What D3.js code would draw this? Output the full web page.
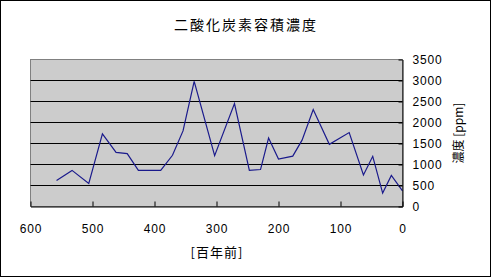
<!DOCTYPE html>
<html>
<head>
<meta charset="utf-8">
<script src="https://cdn.jsdelivr.net/npm/d3@7"></script>
<style>
  body { margin: 0; background: #fff; }
  svg text { font-family: "Liberation Sans", "Noto Sans CJK JP", sans-serif; fill: #000; }
</style>
</head>
<body>
<div id="chart"></div>
<script>
// values: hundreds of years ago vs CO2 concentration
const yearsAgo = [558, 533, 506, 484, 462, 444, 426, 390, 371, 354, 336, 303, 271, 247, 229, 216, 200, 177, 162, 144, 118, 86, 63, 48, 32, 18, 0];
const ppm = [620, 860, 550, 1730, 1290, 1260, 860, 860, 1220, 1800, 2980, 1210, 2450, 860, 880, 1630, 1130, 1200, 1580, 2310, 1480, 1760, 750, 1195, 320, 740, 370];
const xTicks = [600, 500, 400, 300, 200, 100, 0];
const yTicks = [0, 500, 1000, 1500, 2000, 2500, 3000, 3500];
const titleText = "二酸化炭素容積濃度";
const xLabel = "[百年前]";
const yLabel = "濃度 [ppm]";

const W = 492, H = 278;
const svg = d3.select("#chart").append("svg")
    .attr("width", W)
    .attr("height", H);

// outer frame
svg.append("rect")
    .attr("x", 0.5).attr("y", 0.5)
    .attr("width", W - 2).attr("height", H - 2)
    .attr("fill", "#fff")
    .attr("stroke", "#000");

const plot = { left: 30.5, right: 402.5, top: 59.5, bottom: 206.5 };

const x = d3.scaleLinear().domain([600, 0]).range([plot.left, plot.right]);
const y = d3.scaleLinear().domain([0, 3500]).range([plot.bottom, plot.top]);

// plot area
svg.append("rect")
    .attr("x", plot.left).attr("y", plot.top)
    .attr("width", plot.right - plot.left)
    .attr("height", plot.bottom - plot.top)
    .attr("fill", "#cccccc")
    .attr("stroke", "#808080");

// gridlines
svg.append("g")
    .selectAll("line")
    .data(yTicks.filter(d => d > 0 && d < 3500))
    .enter()
    .append("line")
    .attr("x1", plot.left).attr("x2", plot.right)
    .attr("y1", d => y(d)).attr("y2", d => y(d))
    .attr("stroke", "#000")
    .attr("stroke-width", 1);

// series
const line = d3.line()
    .x((d, i) => x(yearsAgo[i]))
    .y(d => y(d));

svg.append("path")
    .datum(ppm)
    .attr("d", line)
    .attr("fill", "none")
    .attr("stroke", "#1a1a8c")
    .attr("stroke-width", 1.2);

// axes
const yAxis = svg.append("g")
    .attr("transform", `translate(${plot.right}, 0)`)
    .call(d3.axisRight(y).tickValues(yTicks).tickFormat(d3.format("d"))
        .tickSize(-4).tickSizeOuter(0).tickPadding(10));
yAxis.select(".domain").attr("stroke", "#000");
yAxis.selectAll("text")
    .attr("font-size", "12px")
    .attr("letter-spacing", "0.8px")
    .attr("font-family", "Liberation Sans");

const xAxis = svg.append("g")
    .attr("transform", `translate(0, ${plot.bottom})`)
    .call(d3.axisBottom(x).tickValues(xTicks).tickFormat(d3.format("d"))
        .tickSize(-5).tickSizeOuter(0).tickPadding(18));
xAxis.select(".domain").attr("stroke", "#000");
xAxis.selectAll("text")
    .attr("font-size", "12px")
    .attr("letter-spacing", "0.8px")
    .attr("font-family", "Liberation Sans");

// title and axis labels
svg.append("text")
    .attr("x", 246)
    .attr("y", 30)
    .attr("text-anchor", "middle")
    .attr("font-size", "14px")
    .attr("letter-spacing", "2px")
    .style("font-family", "'Noto Sans CJK JP'")
    .text(titleText);

svg.append("text")
    .attr("x", 217)
    .attr("y", 257)
    .attr("text-anchor", "middle")
    .attr("font-size", "13px")
    .attr("letter-spacing", "1px")
    .style("font-family", "'Noto Sans CJK JP'")
    .text(xLabel);

svg.append("text")
    .attr("transform", `translate(463, 133) rotate(-90)`)
    .attr("text-anchor", "middle")
    .attr("font-size", "12px")
    .style("font-family", "'Noto Sans CJK JP'")
    .text(yLabel);
</script>
</body>
</html>
